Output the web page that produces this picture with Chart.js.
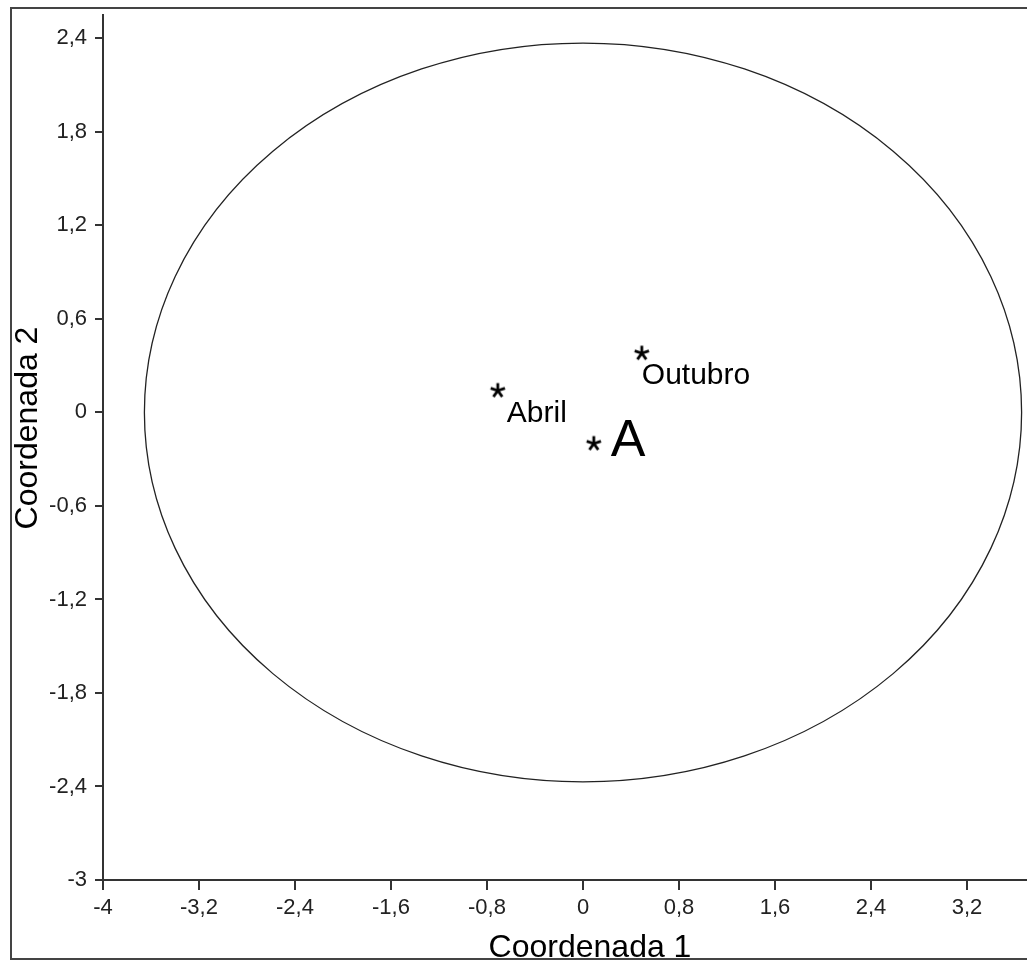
<!DOCTYPE html>
<html>
<head>
<meta charset="utf-8">
<script src="https://cdn.jsdelivr.net/npm/chart.js@4"></script>
<style>
  html, body { margin: 0; padding: 0; background: #fff; }
  #grafico { display: block; }
</style>
</head>
<body>
<canvas id="grafico" width="1027" height="961"></canvas>
<script>
// Coordenadas dos meses
const nomesPontos = ['Abril', 'Outubro'];
const coordenada1 = [-0.71, 0.49];
const coordenada2 = [0.14, 0.38];

// Centro do grupo A
const nomeGrupo = ['A'];
const grupoCoord1 = [0.09];
const grupoCoord2 = [-0.20];

// Elipse: centro e semi-eixos (em unidades dos eixos)
const elipseCentro = [0, 0];
const elipseRaios = [3.655, 2.37];

// Marcas dos eixos
const ticksX = [-4, -3.2, -2.4, -1.6, -0.8, 0, 0.8, 1.6, 2.4, 3.2];
const ticksY = [-3, -2.4, -1.8, -1.2, -0.6, 0, 0.6, 1.2, 1.8, 2.4];

const fonte = '"Liberation Sans", Arial, sans-serif';

function formataNumero(v) {
    return String(+v.toFixed(1)).replace('.', ',');
}

// asterisco de 5 bracos usado como marcador
function criaAsterisco() {
    const c = document.createElement('canvas');
    c.width = 18;
    c.height = 18;
    const g = c.getContext('2d');
    g.strokeStyle = '#000';
    g.lineWidth = 2.8;
    g.lineCap = 'butt';
    for (let i = 0; i < 5; i++) {
        const a = -Math.PI / 2 + i * 2 * Math.PI / 5;
        g.beginPath();
        g.moveTo(9, 9);
        g.lineTo(9 + Math.cos(a) * 7.5, 9 + Math.sin(a) * 7.5);
        g.stroke();
    }
    return c;
}
const asterisco = criaAsterisco();

const pontos = coordenada1.map((x, i) => ({ x: x, y: coordenada2[i] }));
const pontosGrupo = grupoCoord1.map((x, i) => ({ x: x, y: grupoCoord2[i] }));

// moldura e fundo
const moldura = {
    id: 'moldura',
    beforeDraw(chart) {
        const ctx = chart.ctx;
        ctx.save();
        ctx.fillStyle = '#fff';
        ctx.fillRect(0, 0, chart.width, chart.height);
        ctx.strokeStyle = '#444';
        ctx.lineWidth = 2;
        ctx.strokeRect(11, 8, chart.width + 20, 951);
        ctx.restore();
    }
};

// elipse desenhada a partir das escalas
const elipse = {
    id: 'elipse',
    beforeDatasetsDraw(chart) {
        const sx = chart.scales.x, sy = chart.scales.y;
        const cx = sx.getPixelForValue(elipseCentro[0]);
        const cy = sy.getPixelForValue(elipseCentro[1]);
        const rx = Math.abs(sx.getPixelForValue(elipseCentro[0] + elipseRaios[0]) - cx);
        const ry = Math.abs(sy.getPixelForValue(elipseCentro[1] + elipseRaios[1]) - cy);
        const ctx = chart.ctx;
        ctx.save();
        ctx.strokeStyle = '#222';
        ctx.lineWidth = 1.3;
        ctx.beginPath();
        ctx.ellipse(cx, cy, rx, ry, 0, 0, 2 * Math.PI);
        ctx.stroke();
        ctx.restore();
    }
};

// rotulos dos pontos e titulos dos eixos
const rotulos = {
    id: 'rotulos',
    afterDatasetsDraw(chart) {
        const ctx = chart.ctx;
        ctx.save();
        ctx.fillStyle = '#000';
        ctx.textAlign = 'left';
        ctx.textBaseline = 'alphabetic';

        ctx.font = '30px ' + fonte;
        chart.getDatasetMeta(0).data.forEach((p, i) => {
            const dx = i === 0 ? 9 : 0;
            ctx.fillText(nomesPontos[i], p.x + dx, p.y + 31);
        });

        ctx.font = '52px ' + fonte;
        chart.getDatasetMeta(1).data.forEach((p, i) => {
            ctx.fillText(nomeGrupo[i], p.x + 17, p.y + 12);
        });

        // titulos
        ctx.font = '32px ' + fonte;
        ctx.textAlign = 'center';
        ctx.fillText('Coordenada 1', 590, 957);
        ctx.translate(37, 428);
        ctx.rotate(-Math.PI / 2);
        ctx.fillText('Coordenada 2', 0, 0);
        ctx.restore();
    }
};

const ctx = document.getElementById('grafico').getContext('2d');
const grafico = new Chart(ctx, {
    type: 'scatter',
    data: {
        datasets: [{
            label: 'Meses',
            data: pontos,
            pointStyle: asterisco,
            pointRadius: 9
        }, {
            label: 'Grupo',
            data: pontosGrupo,
            pointStyle: asterisco,
            pointRadius: 9
        }]
    },
    options: {
        responsive: false,
        animation: false,
        // sem folga automatica: o eixo x vai ate a borda direita
        layout: { autoPadding: false, padding: { top: 15, right: 0, bottom: 0, left: 0 } },
        plugins: {
            legend: { display: false },
            tooltip: { enabled: false }
        },
        scales: {
            x: {
                type: 'linear',
                min: -4,
                max: 3.7,
                afterFit(scale) {
                    scale.height = 81;
                    scale.paddingLeft = 0;
                    scale.paddingRight = 0;
                },
                afterBuildTicks(scale) { scale.ticks = ticksX.map(v => ({ value: v })); },
                grid: { drawOnChartArea: false, drawTicks: true, tickLength: 10, color: '#333', lineWidth: 2 },
                border: { display: true, color: '#333', width: 2 },
                ticks: {
                    padding: 5,
                    color: '#222',
                    font: { family: fonte, size: 22 },
                    maxRotation: 0,
                    autoSkip: false,
                    callback: v => formataNumero(v)
                }
            },
            y: {
                type: 'linear',
                min: -3,
                max: 2.55,
                afterFit(scale) {
                    scale.width = 103;
                    scale.paddingTop = 0;
                    scale.paddingBottom = 0;
                },
                afterBuildTicks(scale) { scale.ticks = ticksY.map(v => ({ value: v })); },
                grid: { drawOnChartArea: false, drawTicks: true, tickLength: 8, color: '#333', lineWidth: 2 },
                border: { display: true, color: '#333', width: 2 },
                ticks: {
                    padding: 8,
                    color: '#222',
                    font: { family: fonte, size: 22 },
                    autoSkip: false,
                    callback: v => formataNumero(v)
                }
            }
        }
    },
    plugins: [moldura, elipse, rotulos]
});
</script>
</body>
</html>
